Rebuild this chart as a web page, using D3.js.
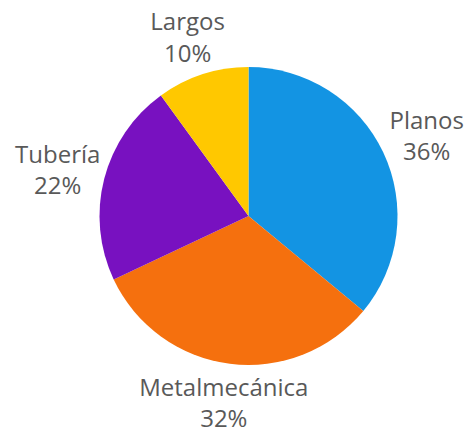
<!DOCTYPE html>
<html>
<head>
<meta charset="utf-8">
<script src="https://cdn.jsdelivr.net/npm/d3@7"></script>
<style>
  body { margin: 0; background: #fff; }
  svg text { font-family: "Open Sans", sans-serif; fill: #595959; }
</style>
</head>
<body>
<div id="chart"></div>
<script>
'use strict'

const categories = ['Planos', 'Metalmecánica', 'Tubería', 'Largos']
const values = [36, 32, 22, 10]
const colors = ['#1394e3', '#f5700e', '#7811c0', '#ffc800']

const width = 468,
    height = 432
const cx = 248.5, cy = 216, radius = 149
// labels sit on a slightly flattened ring outside the pie
const labelRx = 197, labelRy = 188

const svg = d3.select('#chart').append('svg')
  .attr('width', width)
  .attr('height', height)

const g = svg.append('g').attr('transform', `translate(${cx},${cy})`)

const pie = d3.pie().sort(null).value(d => d.value)
const data = pie(categories.map((c, i) => ({ name: c, value: values[i], color: colors[i] })))

const arc = d3.arc().innerRadius(0).outerRadius(radius)

g.selectAll('path.slice')
  .data(data)
  .enter().append('path')
    .attr('class', 'slice')
    .attr('d', arc)
    .attr('fill', d => d.data.color)

const labelPos = (d) => {
  const a = (d.startAngle + d.endAngle) / 2
  return [Math.sin(a) * labelRx, -Math.cos(a) * labelRy]
}

const label = g.selectAll('text.lbl')
  .data(data)
  .enter().append('text')
    .attr('class', 'lbl')
    .attr('text-anchor', 'middle')
    .attr('font-size', 24)
    .attr('transform', d => `translate(${labelPos(d)})`)

label.append('tspan')
  .attr('x', 0)
  .attr('dy', '-0.28em')
  .text(d => d.data.name)

label.append('tspan')
  .attr('x', 0)
  .attr('dy', '1.3em')
  .text(d => `${d.data.value}%`)
</script>
</body>
</html>
